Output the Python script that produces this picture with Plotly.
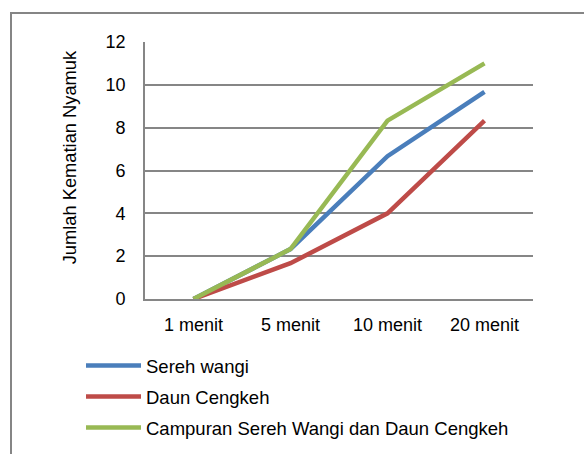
import plotly.graph_objects as go

# Waktu pengamatan dan jumlah kematian nyamuk per perlakuan
waktu = ["1 menit", "5 menit", "10 menit", "20 menit"]
sereh_wangi = [0, 2.33, 6.67, 9.67]
daun_cengkeh = [0, 1.67, 4, 8.33]
campuran = [0, 2.33, 8.33, 11]

nama_seri = ["Sereh wangi", "Daun Cengkeh", "Campuran Sereh Wangi dan Daun Cengkeh"]
warna = ["#4A7EBB", "#BE4B48", "#98B954"]
y_ticks = [0, 2, 4, 6, 8, 10, 12]

FONT = "Liberation Sans, Arial, sans-serif"
GRID = "#868686"

fig = go.Figure()
for i, (nama, nilai) in enumerate(zip(nama_seri, [sereh_wangi, daun_cengkeh, campuran])):
    fig.add_trace(go.Scatter(
        x=waktu, y=nilai, name=nama, mode="lines",
        line=dict(color=warna[i], width=4.5),
        legendgroup=f"g{i}",
    ))

W, H = 584, 454
L, R, T, B = 145, 51, 41.5, 155
pw, ph = W - L - R, H - T - B

def px_x(x):
    return (x - L) / pw

def px_y(y):
    return (H - B - y) / ph

fig.update_layout(
    width=W, height=H,
    margin=dict(l=L, r=R, t=T, b=B, pad=0, autoexpand=False),
    paper_bgcolor="white", plot_bgcolor="white",
    font=dict(family=FONT, size=18, color="#000000"),
    showlegend=True,
    legend=dict(
        x=px_x(81), y=px_y(347), xanchor="left", yanchor="top",
        traceorder="grouped", tracegroupgap=4, itemwidth=55,
        font=dict(family=FONT, size=18.5, color="#000000"),
        bgcolor="rgba(0,0,0,0)", borderwidth=0,
    ),
    xaxis=dict(
        type="category", range=[-0.5, 3.5], showgrid=False,
        showline=True, linecolor=GRID, linewidth=1.6,
        ticks="", ticklabelstandoff=9, zeroline=False,
    ),
    yaxis=dict(
        range=[0, 12], tickvals=y_ticks, showgrid=True,
        gridcolor=GRID, gridwidth=1.6,
        showline=True, linecolor=GRID, linewidth=1.6,
        ticks="", ticklabelstandoff=14, zeroline=False,
    ),
    annotations=[dict(
        text="Jumlah Kematian Nyamuk", textangle=-90,
        xref="paper", yref="paper", x=px_x(69), y=px_y(157),
        xanchor="center", yanchor="middle", showarrow=False,
        font=dict(family=FONT, size=18.3, color="#000000"),
    )],
    shapes=[dict(
        type="rect", xref="paper", yref="paper",
        x0=px_x(11), y0=px_y(470), x1=px_x(600), y1=px_y(12.5),
        line=dict(color="#858585", width=2), fillcolor="rgba(0,0,0,0)",
        layer="below",
    )],
)

fig.write_html("out.html")
